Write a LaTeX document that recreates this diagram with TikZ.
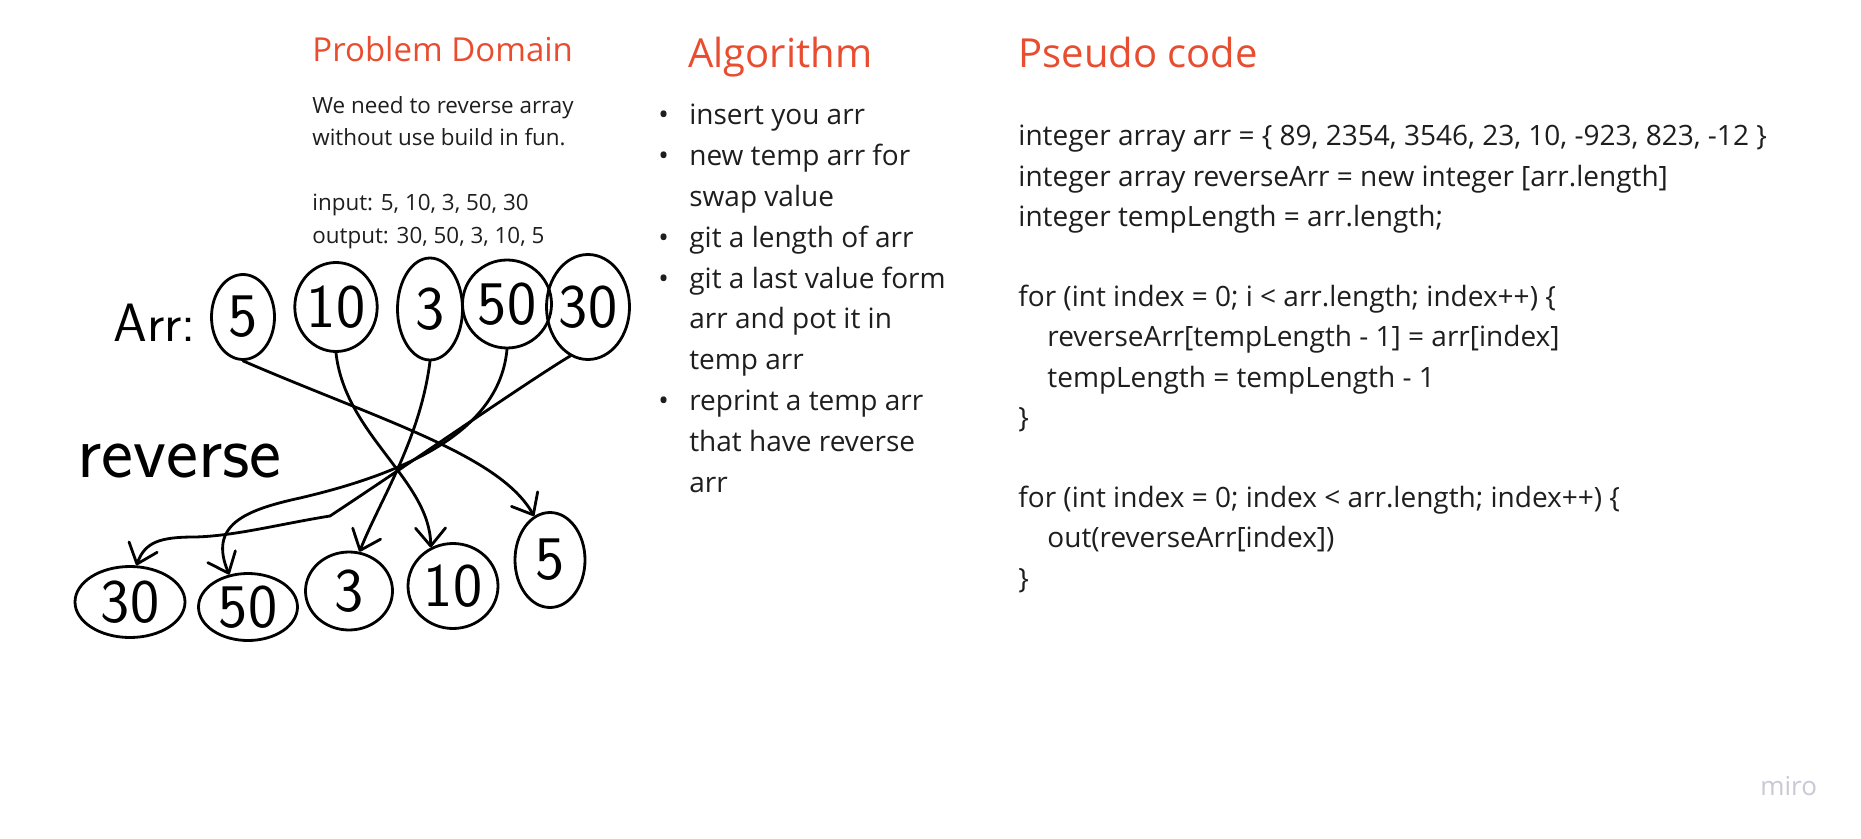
\documentclass[tikz,border=0pt]{standalone}
\usepackage{fontspec}
\setmainfont{Open Sans}
\usetikzlibrary{shapes.geometric,arrows.meta}
\definecolor{headred}{RGB}{232,77,48}
\definecolor{ink}{RGB}{30,30,30}
\definecolor{logogray}{RGB}{200,201,212}

\begin{document}
\begin{tikzpicture}[x=0.5pt, y=-0.5pt,
    heading/.style={anchor=base west, inner sep=0, text=headred},
    body/.style={anchor=base west, inner sep=0, text=ink},
    hand/.style={draw, ellipse, line width=1.4pt, inner sep=0, font=\sffamily\fontsize{31}{31}\selectfont},
    swap/.style={line width=1.4pt, line cap=round, -{Straight Barb[length=9pt,width=15pt,round]}}]
    \useasboundingbox[fill=white] (0,0) rectangle (1861,839);

    \node[heading, font=\fontsize{16.5}{20}\selectfont] (pdtitle) at (312,62) {Problem Domain};
    \node[body, font=\fontsize{11.2}{16.25}\selectfont] (pdtext) at (312,113.5)
        {\begin{tabular}[t]{@{}l@{}}
        We need to reverse array\\
        without use build in fun.\\
        \\
        input: 5, 10, 3, 50, 30\\
        output: 30, 50, 3, 10, 5
        \end{tabular}};

    \node[heading, font=\fontsize{20}{24}\selectfont] (algtitle) at (688,68) {Algorithm};
    \node[body, font=\fontsize{14}{20.4}\selectfont] (algtext) at (658,125)
        {\begin{tabular}[t]{@{}l@{\hspace{10.2pt}}l@{}}
        \textbullet & insert you arr\\
        \textbullet & new temp arr for\\
                    & swap value\\
        \textbullet & git a length of arr\\
        \textbullet & git a last value form\\
                    & arr and pot it in\\
                    & temp arr\\
        \textbullet & reprint a temp arr\\
                    & that have reverse\\
                    & arr
        \end{tabular}};

    \node[heading, font=\fontsize{20}{24}\selectfont] (codetitle) at (1018,68) {Pseudo code};
    \node[body, font=\fontsize{14}{20.1}\selectfont] (code) at (1018,146)
        {\begin{tabular}[t]{@{}l@{}}
        integer array arr = \{ 89, 2354, 3546, 23, 10, -923, 823, -12 \}\\
        integer array reverseArr = new integer [arr.length]\\
        integer tempLength = arr.length;\\
        \\
        for (int index = 0; i < arr.length; index++) \{\\
        \hspace*{14.5pt}reverseArr[tempLength - 1] = arr[index]\\
        \hspace*{14.5pt}tempLength = tempLength - 1\\
        \}\\
        \\
        for (int index = 0; index < arr.length; index++) \{\\
        \hspace*{14.5pt}out(reverseArr[index])\\
        \}
        \end{tabular}};

    \node[anchor=base west, inner sep=0, font=\sffamily\fontsize{27}{27}\selectfont] (arrlabel) at (113,342) {Arr:};
    \node[anchor=base west, inner sep=0, font=\sffamily\fontsize{38}{38}\selectfont] (revlabel) at (77,477) {reverse};

    \node[hand, minimum width=31.5pt, minimum height=42.5pt] (a1) at (243,317) {5};
    \node[hand, minimum width=40.5pt, minimum height=44.5pt] (a2) at (336,307) {10};
    \node[hand, minimum width=32.5pt, minimum height=51pt] (a3) at (430,309) {3};
    \node[hand, minimum width=44.5pt, minimum height=44pt] (a4) at (507,304) {50};
    \node[hand, minimum width=41.5pt, minimum height=52.5pt] (a5) at (588,307) {30};

    \node[hand, minimum width=55pt, minimum height=35.5pt] (b1) at (130,602) {30};
    \node[hand, minimum width=49.5pt, minimum height=33.5pt] (b2) at (248,607) {50};
    \node[hand, minimum width=43.5pt, minimum height=39pt] (b3) at (349,591) {3};
    \node[hand, minimum width=45pt, minimum height=42.5pt] (b4) at (453,586) {10};
    \node[hand, minimum width=35pt, minimum height=47.5pt] (b5) at (550,560) {5};

    \draw[swap] (a1.south) .. controls (380,420) and (500,455) .. (b5.110);
    \draw[swap] (a2.south) .. controls (345,435) and (430,480) .. (b4.120);
    \draw[swap] (a3.south) .. controls (420,440) and (380,500) .. (b3.75);
    \draw[swap] (a4.south) .. controls (500,425) and (420,470) .. (300,498)
        .. controls (245,510) and (208,525) .. (b2.120);
    \draw[swap] (a5.250) .. controls (530,380) and (400,470) .. (330,516)
        .. controls (280,524) and (235,536) .. (195,537)
        .. controls (160,537) and (145,542) .. (b1.80);

    \node[anchor=base west, inner sep=0, text=logogray, font=\fontsize{13}{13}\selectfont] (logo) at (1760,795) {miro};
\end{tikzpicture}
\end{document}
